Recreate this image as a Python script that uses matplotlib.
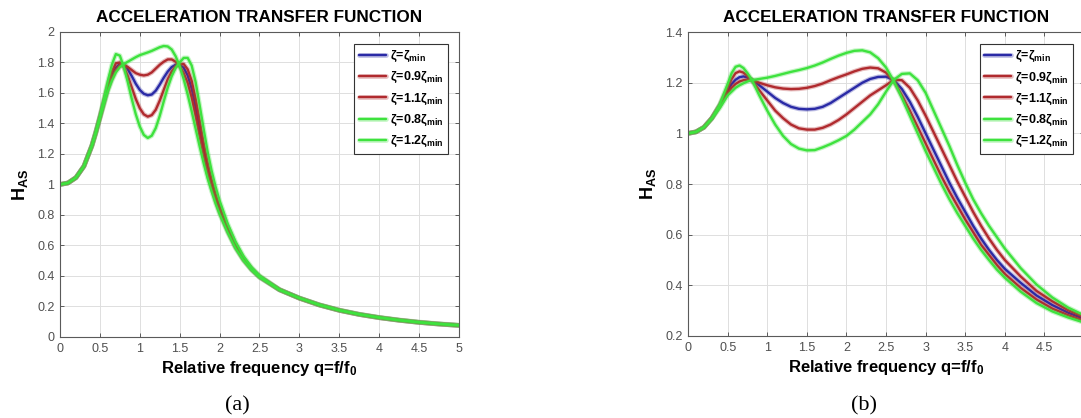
import matplotlib
matplotlib.use('Agg')
import matplotlib.pyplot as plt
import matplotlib.patheffects as pe
from matplotlib.ticker import FormatStrFormatter

plt.rcParams['font.family'] = ['Liberation Sans', 'DejaVu Sans']
plt.rcParams['mathtext.fontset'] = 'custom'
plt.rcParams['mathtext.rm'] = 'Liberation Sans:bold'
plt.rcParams['mathtext.it'] = 'Liberation Sans:bold'
plt.rcParams['mathtext.bf'] = 'Liberation Sans:bold'

# ---- data ----
labels = ['ζ=ζ$_{\\mathrm{min}}$', 'ζ=0.9ζ$_{\\mathrm{min}}$', 'ζ=1.1ζ$_{\\mathrm{min}}$',
          'ζ=0.8ζ$_{\\mathrm{min}}$', 'ζ=1.2ζ$_{\\mathrm{min}}$']

# panel (a)
q_a = [0, 0.1, 0.2, 0.3, 0.4, 0.45, 0.5, 0.55, 0.6, 0.65, 0.7, 0.75, 0.8, 0.85, 0.9, 0.95,
       1.0, 1.05, 1.1, 1.15, 1.2, 1.25, 1.3, 1.35, 1.4, 1.45, 1.5, 1.55, 1.6, 1.65, 1.7, 1.75,
       1.8, 1.85, 1.9, 1.95, 2.0, 2.1, 2.2, 2.3, 2.4, 2.5, 2.75, 3.0, 3.25, 3.5, 3.75, 4.0,
       4.25, 4.5, 4.75, 5.0]
h_a_min = [1.0, 1.01, 1.045, 1.12, 1.255, 1.345, 1.44, 1.54, 1.635, 1.71, 1.765, 1.79, 1.785, 1.755, 1.71, 1.66,
           1.62, 1.595, 1.585, 1.59, 1.615, 1.655, 1.70, 1.74, 1.77, 1.785, 1.785, 1.765, 1.715, 1.63, 1.505, 1.36,
           1.225, 1.105, 1.0, 0.91, 0.835, 0.705, 0.595, 0.51, 0.445, 0.395, 0.31, 0.255, 0.21, 0.175, 0.148, 0.127,
           0.11, 0.096, 0.085, 0.076]
h_a_09 = [1.0, 1.01, 1.045, 1.12, 1.255, 1.345, 1.445, 1.55, 1.655, 1.74, 1.795, 1.80, 1.77, 1.71, 1.635, 1.56,
          1.50, 1.46, 1.445, 1.455, 1.49, 1.55, 1.62, 1.69, 1.74, 1.775, 1.79, 1.79, 1.755, 1.68, 1.56, 1.415,
          1.27, 1.14, 1.03, 0.935, 0.855, 0.72, 0.605, 0.515, 0.45, 0.398, 0.31, 0.254, 0.21, 0.175, 0.148, 0.127,
          0.11, 0.096, 0.085, 0.076]
h_a_11 = [1.0, 1.01, 1.045, 1.12, 1.255, 1.34, 1.435, 1.53, 1.625, 1.695, 1.75, 1.78, 1.785, 1.77, 1.75, 1.73,
          1.72, 1.715, 1.72, 1.735, 1.76, 1.785, 1.805, 1.82, 1.82, 1.805, 1.775, 1.73, 1.665, 1.57, 1.45, 1.32,
          1.195, 1.08, 0.98, 0.895, 0.82, 0.695, 0.588, 0.505, 0.442, 0.393, 0.31, 0.255, 0.21, 0.175, 0.148, 0.127,
          0.11, 0.096, 0.085, 0.076]
h_a_08 = [1.0, 1.01, 1.045, 1.12, 1.26, 1.35, 1.45, 1.565, 1.68, 1.785, 1.855, 1.845, 1.77, 1.67, 1.56, 1.46,
          1.38, 1.325, 1.305, 1.32, 1.37, 1.45, 1.545, 1.635, 1.71, 1.765, 1.80, 1.83, 1.83, 1.78, 1.67, 1.52,
          1.365, 1.215, 1.09, 0.985, 0.895, 0.745, 0.625, 0.53, 0.458, 0.403, 0.312, 0.254, 0.209, 0.174, 0.147, 0.126,
          0.109, 0.095, 0.084, 0.075]
h_a_12 = [1.0, 1.01, 1.045, 1.12, 1.25, 1.335, 1.43, 1.52, 1.61, 1.68, 1.735, 1.77, 1.79, 1.805, 1.82, 1.835,
          1.848, 1.857, 1.866, 1.876, 1.888, 1.90, 1.908, 1.905, 1.885, 1.84, 1.775, 1.69, 1.59, 1.48, 1.365, 1.25,
          1.14, 1.04, 0.955, 0.875, 0.805, 0.685, 0.58, 0.50, 0.438, 0.39, 0.308, 0.256, 0.212, 0.177, 0.15, 0.129,
          0.112, 0.098, 0.087, 0.078]

# panel (b)
q_b = [0, 0.1, 0.2, 0.3, 0.4, 0.5, 0.55, 0.6, 0.65, 0.7, 0.75, 0.8, 0.9, 1.0, 1.1, 1.2, 1.3, 1.4, 1.5, 1.6,
       1.7, 1.8, 1.9, 2.0, 2.1, 2.2, 2.3, 2.4, 2.5, 2.6, 2.7, 2.8, 2.9, 3.0, 3.1, 3.2, 3.3, 3.4, 3.5, 3.6,
       3.7, 3.8, 3.9, 4.0, 4.2, 4.4, 4.6, 4.8, 5.0]
h_b_min = [1.0, 1.006, 1.024, 1.06, 1.11, 1.17, 1.195, 1.212, 1.222, 1.225, 1.221, 1.212, 1.19, 1.165, 1.14, 1.12,
           1.105, 1.097, 1.095, 1.097, 1.105, 1.12, 1.14, 1.16, 1.18, 1.20, 1.215, 1.223, 1.224, 1.21, 1.175, 1.125,
           1.065, 1.0, 0.935, 0.87, 0.805, 0.745, 0.69, 0.635, 0.585, 0.54, 0.5, 0.465, 0.41, 0.36, 0.322, 0.292, 0.268]
h_b_09 = [1.0, 1.006, 1.024, 1.06, 1.112, 1.18, 1.215, 1.238, 1.245, 1.24, 1.227, 1.212, 1.17, 1.13, 1.09, 1.06,
          1.035, 1.02, 1.015, 1.015, 1.022, 1.035, 1.053, 1.075, 1.10, 1.125, 1.15, 1.17, 1.19, 1.212, 1.21, 1.18,
          1.13, 1.07, 1.005, 0.94, 0.875, 0.81, 0.75, 0.69, 0.635, 0.585, 0.54, 0.50, 0.435, 0.378, 0.337, 0.302, 0.275]
h_b_11 = [1.0, 1.006, 1.024, 1.06, 1.108, 1.16, 1.18, 1.195, 1.205, 1.21, 1.212, 1.212, 1.2, 1.19, 1.182, 1.177,
          1.175, 1.176, 1.18, 1.187, 1.197, 1.21, 1.222, 1.233, 1.245, 1.255, 1.26, 1.257, 1.24, 1.205, 1.15, 1.09,
          1.025, 0.96, 0.895, 0.83, 0.77, 0.715, 0.66, 0.61, 0.56, 0.52, 0.48, 0.445, 0.39, 0.344, 0.308, 0.282, 0.26]
h_b_08 = [1.0, 1.006, 1.024, 1.06, 1.115, 1.195, 1.238, 1.263, 1.268, 1.258, 1.238, 1.215, 1.15, 1.09, 1.035, 0.99,
          0.958, 0.94, 0.933, 0.934, 0.945, 0.958, 0.973, 0.99, 1.015, 1.045, 1.075, 1.115, 1.165, 1.212, 1.235, 1.237,
          1.21, 1.16, 1.09, 1.02, 0.95, 0.875, 0.805, 0.74, 0.685, 0.635, 0.59, 0.545, 0.468, 0.403, 0.352, 0.312, 0.282]
h_b_12 = [1.0, 1.006, 1.024, 1.058, 1.10, 1.15, 1.165, 1.18, 1.19, 1.198, 1.205, 1.21, 1.215, 1.22, 1.227, 1.235,
          1.243, 1.25, 1.258, 1.268, 1.28, 1.294, 1.307, 1.318, 1.326, 1.328, 1.32, 1.297, 1.26, 1.205, 1.14, 1.07,
          1.0, 0.93, 0.865, 0.80, 0.74, 0.685, 0.635, 0.585, 0.54, 0.50, 0.462, 0.43, 0.375, 0.33, 0.297, 0.273, 0.253]

colors = ['#2a2aa6', '#b02a2e', '#b02a2e', '#3ee23e', '#3ee23e']

fig = plt.figure(figsize=(10.81, 4.18), dpi=100)
ax1 = fig.add_axes([0.0555, 0.1938, 0.3691, 0.7297])
ax2 = fig.add_axes([0.6365, 0.1962, 0.3663, 0.7270])

panels = [(ax1, q_a, [h_a_min, h_a_09, h_a_11, h_a_08, h_a_12], (0, 2), 0.2, '(a)'),
          (ax2, q_b, [h_b_min, h_b_09, h_b_11, h_b_08, h_b_12], (0.2, 1.4), 0.2, '(b)')]

for ax, q, curves, ylim, ystep, cap in panels:
    for h, c, lab in zip(curves, colors, labels):
        effects = [pe.Stroke(linewidth=3.4, foreground=c, alpha=0.3), pe.Normal()]
        ax.plot(q, h, color=c, lw=1.7, label=lab, path_effects=effects, solid_capstyle='round')
    ax.set_xlim(0, 5)
    ax.set_ylim(*ylim)
    ax.set_xticks([i * 0.5 for i in range(11)])
    n = int(round((ylim[1] - ylim[0]) / ystep))
    ax.set_yticks([ylim[0] + i * ystep for i in range(n + 1)])
    ax.xaxis.set_major_formatter(FormatStrFormatter('%g'))
    ax.yaxis.set_major_formatter(FormatStrFormatter('%g'))
    ax.grid(True, color='#dedede', lw=0.7)
    ax.set_axisbelow(True)
    for s in ax.spines.values():
        s.set_color('#5a5a5a')
        s.set_linewidth(0.8)
    ax.tick_params(direction='in', top=True, right=True, length=3, width=0.7,
                   color='#5a5a5a', labelcolor='#505050', labelsize=9, pad=4)
    ax.set_title('ACCELERATION TRANSFER FUNCTION', fontsize=12.3, fontweight='bold', pad=7)
    ax.set_xlabel('Relative frequency q=f/f$_{\\mathrm{0}}$', fontsize=12, fontweight='bold', labelpad=3)
    ax.set_ylabel('H$_{\\mathrm{AS}}$', fontsize=13, fontweight='bold', labelpad=5)
    leg = ax.legend(loc='upper right', bbox_to_anchor=(0.972, 0.961), borderaxespad=0,
                    fancybox=False, framealpha=1, edgecolor='#333333',
                    prop={'weight': 'bold', 'size': 9}, handlelength=2.2, labelspacing=0.42,
                    handletextpad=0.3, borderpad=0.35)
    leg.get_frame().set_linewidth(0.8)
    bb = ax.get_position()
    fig.text((bb.x0 + bb.x1) / 2 - 0.02, 0.03, cap, family='Liberation Serif', fontsize=16,
             ha='center', va='center')

fig.savefig('out.png', dpi=100)
